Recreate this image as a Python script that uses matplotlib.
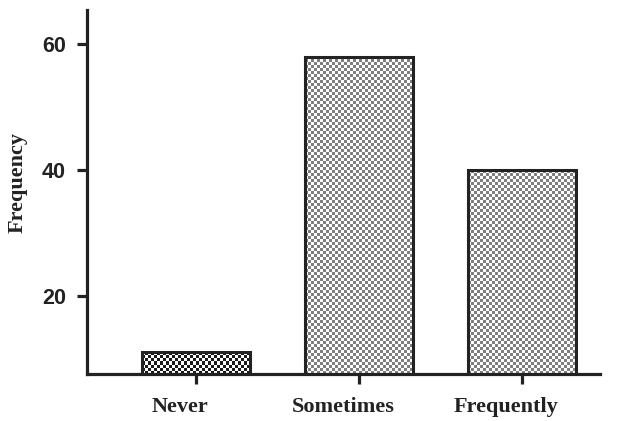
import matplotlib
matplotlib.use('Agg')
import matplotlib.pyplot as plt
import matplotlib.transforms as mtransforms
import numpy as np

categories = ['Never', 'Sometimes', 'Frequently']
frequency = [11, 58, 40]
checker_colors = ['#1a1a1a', '#7f7f7f', '#7f7f7f']
y_ticks = [20, 40, 60]

fig = plt.figure(figsize=(6.24, 4.21), dpi=100)
ax = fig.add_axes([0.139, 0.112, 0.823, 0.864])

x = np.arange(len(categories))
bars = ax.bar(x, frequency, width=0.66, bottom=0, facecolor='none',
              edgecolor='#222222', linewidth=2.2, zorder=3)

ax.set_xlim(-0.669, 2.48)
ax.set_ylim(7.6, 65.4)

# checkerboard fill for each bar, cells about 3 px
fig.canvas.draw()
to_px = ax.transData
for b, col in zip(bars, checker_colors):
    x0, x1 = b.get_x(), b.get_x() + b.get_width()
    y0, y1 = ax.get_ylim()[0], b.get_height()
    p0 = to_px.transform((x0, y0))
    p1 = to_px.transform((x1, y1))
    nx = max(1, int(round((p1[0] - p0[0]) / 3.0)))
    ny = max(1, int(round((p1[1] - p0[1]) / 3.0)))
    board = (np.add.outer(np.arange(ny), np.arange(nx)) % 2).astype(float)
    cmap = matplotlib.colors.ListedColormap(['white', col])
    im = ax.imshow(board, cmap=cmap, extent=(x0, x1, y0, y1), aspect='auto',
                   interpolation='nearest', zorder=2)
    im.set_clip_path(b)

ax.spines['top'].set_visible(False)
ax.spines['right'].set_visible(False)
for side in ['left', 'bottom']:
    ax.spines[side].set_linewidth(2.3)
    ax.spines[side].set_color('#222222')

ax.set_yticks(y_ticks)
ax.set_yticklabels([str(t) for t in y_ticks], fontfamily='Liberation Sans',
                   fontweight='bold', fontsize=15.5, color='#222222')
ax.set_xticks(x)
ax.set_xticklabels(categories, fontfamily='Liberation Serif',
                   fontweight='bold', fontsize=16, color='#222222')
ax.tick_params(axis='y', length=7, width=2.3, color='#222222', pad=8)
ax.tick_params(axis='x', length=7, width=2.3, color='#222222', pad=10)

# category labels sit a little left of the tick marks
shift = mtransforms.ScaledTranslation(-0.16, 0, fig.dpi_scale_trans)
for lab in ax.get_xticklabels():
    lab.set_transform(lab.get_transform() + shift)

ax.set_ylabel('Frequency', fontfamily='Liberation Serif', fontweight='bold',
              fontsize=16, color='#222222')
ax.yaxis.set_label_coords(-0.115, 0.525)

fig.savefig('out.png', dpi=100)
